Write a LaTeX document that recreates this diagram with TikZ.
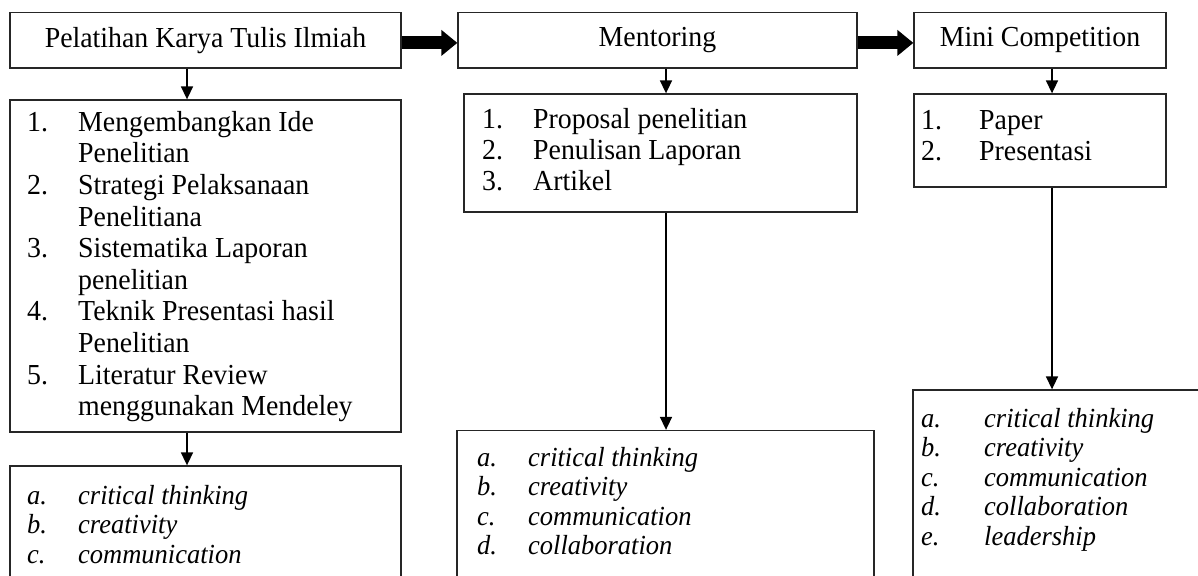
\documentclass[tikz,border=0pt]{standalone}
\usepackage{fontspec}
\setmainfont{Liberation Serif}[FakeStretch=0.96]
\usetikzlibrary{arrows.meta}

\begin{document}
\begin{tikzpicture}[x=1pt, y=-1pt,
                    every node/.style={inner sep=0pt, font=\fontsize{29}{31.6}\selectfont},
                    box_style/.style={draw=black!85, line width=1.3pt},
                    list_style/.style={anchor=north west},
                    skill_style/.style={anchor=north west, font=\fontsize{27.6}{29.5}\selectfont\itshape},
                    edge_style/.style={draw=black, line width=1.6pt, -{Triangle[width=12pt, length=13pt]}},
                    flow_style/.style={draw=black, line width=13pt, -{Triangle[width=25pt, length=16pt]}}]
                    \path[use as bounding box, clip] (0,0) rectangle (1198,575);
                    \node[box_style, minimum width=391pt, minimum height=55.3pt] (pkti) at (205.5,40.4) {Pelatihan Karya Tulis Ilmiah};
                    \node[box_style, minimum width=399pt, minimum height=55.3pt] (mentoring) at (657.5,40.4) {Mentoring};
                    \node[box_style, minimum width=252pt, minimum height=55.3pt] (minicomp) at (1040,40.4) {Mini Competition};
                    \node[box_style, minimum width=391pt, minimum height=332pt] (materi) at (205.5,266) {};
                    \node[box_style, minimum width=393pt, minimum height=118pt] (proposal) at (660.5,153) {};
                    \node[box_style, minimum width=252pt, minimum height=93pt] (paper) at (1040,140.5) {};
                    \node[box_style, minimum width=391pt, minimum height=134pt] (skill_a) at (205.5,533) {};
                    \node[box_style, minimum width=417pt, minimum height=171pt] (skill_b) at (665.5,516) {};
                    \node[box_style, minimum width=317pt, minimum height=210pt] (skill_c) at (1071.5,495) {};
                    \node[list_style] (materi_list) at (27,108.9) {\begin{tabular}{@{}p{51pt}@{}l@{}}
                        1. & Mengembangkan Ide\\ & Penelitian\\
                        2. & Strategi Pelaksanaan\\ & Penelitiana\\
                        3. & Sistematika Laporan\\ & penelitian\\
                        4. & Teknik Presentasi hasil\\ & Penelitian\\
                        5. & Literatur Review\\ & menggunakan Mendeley
                    \end{tabular}};
                    \node[list_style, font=\fontsize{29}{30.8}\selectfont] (proposal_list) at (482,107) {\begin{tabular}{@{}p{51pt}@{}l@{}}
                        1. & Proposal penelitian\\
                        2. & Penulisan Laporan\\
                        3. & Artikel
                    \end{tabular}};
                    \node[list_style, font=\fontsize{29}{30.8}\selectfont] (paper_list) at (921,108.2) {\begin{tabular}{@{}p{58pt}@{}l@{}}
                        1. & Paper\\
                        2. & Presentasi
                    \end{tabular}};
                    \node[skill_style] (skill_a_list) at (27,483.3) {\begin{tabular}{@{}p{51pt}@{}l@{}}
                        a. & critical thinking\\
                        b. & creativity\\
                        c. & communication
                    \end{tabular}};
                    \node[skill_style] (skill_b_list) at (477,445.3) {\begin{tabular}{@{}p{51pt}@{}l@{}}
                        a. & critical thinking\\
                        b. & creativity\\
                        c. & communication\\
                        d. & collaboration
                    \end{tabular}};
                    \node[skill_style] (skill_c_list) at (921,406.3) {\begin{tabular}{@{}p{63pt}@{}l@{}}
                        a. & critical thinking\\
                        b. & creativity\\
                        c. & communication\\
                        d. & collaboration\\
                        e. & leadership
                    \end{tabular}};
                    \draw[flow_style] ([yshift=-2.5pt]pkti.east) -- ([yshift=-2.5pt]mentoring.west);
                    \draw[flow_style] ([yshift=-2.5pt]mentoring.east) -- ([yshift=-2.5pt]minicomp.west);
                    \draw[edge_style] (pkti.south -| 187,0) -- (materi.north -| 187,0);
                    \draw[edge_style] (materi.south -| 187,0) -- (skill_a.north -| 187,0);
                    \draw[edge_style] (mentoring.south -| 666,0) -- (proposal.north -| 666,0);
                    \draw[edge_style] (proposal.south -| 666,0) -- (skill_b.north -| 666,0);
                    \draw[edge_style] (minicomp.south -| 1052,0) -- (paper.north -| 1052,0);
                    \draw[edge_style] (paper.south -| 1052,0) -- (skill_c.north -| 1052,0);
                \end{tikzpicture}
\end{document}
